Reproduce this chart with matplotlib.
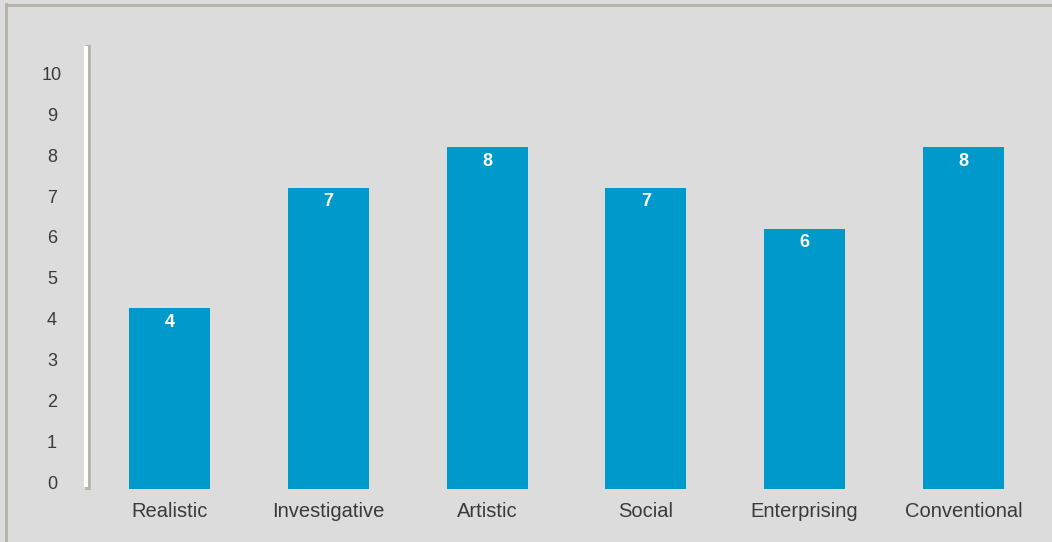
import matplotlib
matplotlib.use("Agg")
import matplotlib.pyplot as plt
from matplotlib.lines import Line2D
import matplotlib.transforms as mtransforms

categories = ["Realistic", "Investigative", "Artistic", "Social", "Enterprising", "Conventional"]
values = [4.25, 7.2, 8.2, 7.2, 6.2, 8.2]
yticks = list(range(0, 11))

BG = "#dcdcdc"
BAR = "#0099cc"
TXT = "#3a3a3a"
EDGE = "#b4b1a7"

plt.rcParams["font.family"] = ["Liberation Sans", "DejaVu Sans"]

fig = plt.figure(figsize=(10.52, 5.42), dpi=100)
fig.patch.set_facecolor(BG)
# outer frame (top and left visible)
fig.add_artist(Line2D([6 / 1052, 6 / 1052], [0, 1 - 4 / 542], transform=fig.transFigure, color=EDGE, lw=2))
fig.add_artist(Line2D([6 / 1052, 1], [1 - 4.5 / 542, 1 - 4.5 / 542], transform=fig.transFigure, color=EDGE, lw=2))

ax = fig.add_axes([86 / 1052, 53 / 542, 961 / 1052, 444 / 542])
ax.set_facecolor(BG)
ymin, ymax = -0.17, 10.70
ax.set_ylim(ymin, ymax)
ax.set_xlim(-0.526, 5.526)

x = list(range(len(categories)))
bars = ax.bar(x, [v - ymin for v in values], bottom=ymin, width=0.51, color=BAR, zorder=2)
for xi, v in zip(x, values):
    ax.annotate(f"{v:.0f}", xy=(xi, v), xytext=(0, -14), textcoords="offset pixels",
                ha="center", va="center", color="white", fontsize=13, fontweight="bold", zorder=3)

for s in ax.spines.values():
    s.set_visible(False)

# axis line: white bar with grey shadow to the right/bottom
shadow_tr = ax.transAxes + mtransforms.Affine2D().translate(1.5, 0)
ax.add_line(Line2D([0, 0], [-0.002, 1], transform=shadow_tr, color=EDGE, lw=4.0, clip_on=False,
                   solid_capstyle="butt"))
ax.add_line(Line2D([0, 0], [0.004, 0.998], transform=ax.transAxes, color="white", lw=3.0, clip_on=False,
                   solid_capstyle="butt"))

ax.set_yticks(yticks)
ax.set_yticklabels([str(t) for t in yticks], ha="center")
ax.tick_params(axis="y", length=0, pad=24.5, labelsize=13, labelcolor=TXT)
ax.set_xticks(x)
ax.set_xticklabels(categories)
ax.tick_params(axis="x", length=0, pad=9.5, labelsize=14.5, labelcolor=TXT)

fig.savefig("out.png", dpi=100, facecolor=BG)
